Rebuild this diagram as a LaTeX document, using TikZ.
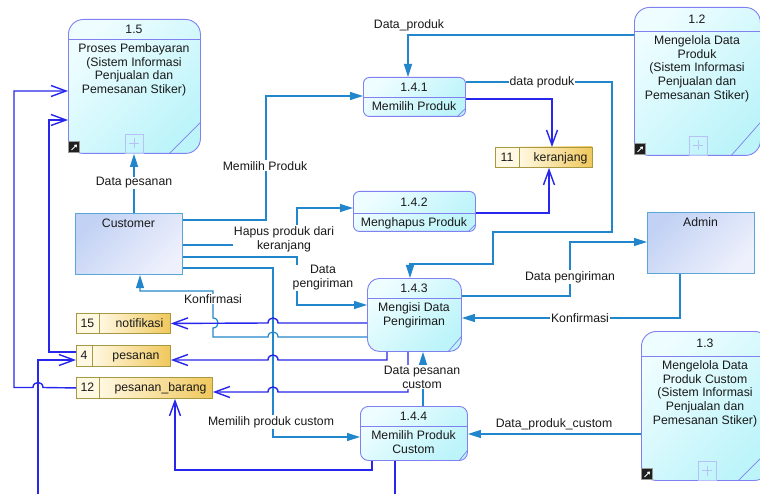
\documentclass[tikz,border=0pt]{standalone}
\usepackage{fontspec}
\setmainfont{Liberation Sans}
\usetikzlibrary{arrows.meta}

\definecolor{flowC}{RGB}{34,134,204}
\definecolor{flowB}{RGB}{38,38,236}
\definecolor{procB}{RGB}{128,128,240}
\definecolor{procT}{RGB}{238,253,255}
\definecolor{procS}{RGB}{188,244,250}
\definecolor{entB}{RGB}{90,166,214}
\definecolor{entT}{RGB}{194,210,244}
\definecolor{entS}{RGB}{238,240,252}
\definecolor{stB}{RGB}{168,152,64}
\definecolor{stL}{RGB}{255,248,226}
\definecolor{stR}{RGB}{240,200,92}
\definecolor{plusC}{RGB}{184,192,248}

\tikzset{
  txt/.style={font=\fontsize{12.3}{14}\selectfont, inner sep=0pt, align=center, text=black!90},
  elbl/.style={txt, fill=white, inner sep=1bp},
  proc/.style={draw=procB, line width=0.9bp, top color=procT, bottom color=procS,
    shading angle=45, inner sep=0pt, anchor=north west},
  procline/.style={draw=procB, line width=0.7bp},
  entity/.style={draw=entB, line width=1.1bp, top color=entT, bottom color=entS,
    shading angle=45, inner sep=0pt, anchor=north west},
  flowc/.style={draw=flowC, line width=1.2bp, -{Triangle[length=13bp,width=8bp]}},
  flowb/.style={draw=flowB, line width=1.4bp, -{Straight Barb[length=15bp,width=11bp]}},
  flowbplain/.style={draw=flowB, line width=1.4bp},
}

% process: name, x, y, width, height, corner radius, header height, number, text
\newcommand\procbox[9]{%
  \node[proc, rounded corners=#6bp, minimum width=#4bp, minimum height=#5bp] (#1) at (#2,#3) {};
  \draw[procline] (#2,#3+#7) -- (#2+#4,#3+#7);
  \node[txt] (#1-no) at (#2+#4/2,#3+#7/2) {#8};
  \node[txt, anchor=north] (#1-tx) at (#2+#4/2,#3+#7+4) {#9};
}
% data store: name, x, y, width, height, divider offset, number, label
\newcommand\storebox[8]{%
  \node[draw=stB, line width=0.9bp, fill=stL, inner sep=0pt, anchor=north west,
        minimum width=#4bp, minimum height=#5bp] (#1) at (#2,#3) {};
  \shade[left color=stL, right color=stR] (#2+#6,#3) rectangle (#2+#4,#3+#5);
  \draw[stB, line width=0.9bp] (#2,#3) rectangle (#2+#4,#3+#5) (#2+#6,#3) -- (#2+#6,#3+#5);
  \node[txt, anchor=base] (#1-no) at (#2+#6/2,#3+#5/2+4.3) {#7};
  \node[txt, anchor=base] (#1-tx) at (#2+#6/2+#4/2+5,#3+#5/2+4.3) {#8};
}
% shortcut marker in the lower left corner of a process
\newcommand\shortcutmark[2]{%
  \fill[black!88] (#1,#2) rectangle ++(11,11);
  \draw[white, line width=1bp, -{Triangle[length=2.5bp,width=3.5bp]}] (#1+3,#2+8.5) -- (#1+8.5,#2+3);
  \draw[black!40, line width=0.4bp] (#1,#2) rectangle ++(11,11);
}
% expand box at the bottom centre of a process
\newcommand\expandmark[2]{%
  \draw[plusC, line width=0.8bp] (#1-9,#2) rectangle (#1+9,#2-19);
  \draw[plusC, line width=0.6bp] (#1-5,#2-9.5) -- (#1+5,#2-9.5) (#1,#2-14.5) -- (#1,#2-4.5);
}

\begin{document}
\begin{tikzpicture}[x=1bp,y=-1bp]
\fill[white] (0,0) rectangle (760,494);
\clip (0,0) rectangle (760,494);

% ---------- processes ----------
\procbox{p15}{68}{19}{132}{134}{15}{20}{1.5}{Proses Pembayaran\\(Sistem Informasi\\Penjualan dan\\Pemesanan Stiker)}
\procbox{p12}{634}{7}{126}{148}{15}{24}{1.2}{Mengelola Data\\Produk\\(Sistem Informasi\\Penjualan dan\\Pemesanan Stiker)}
\procbox{p13}{641}{331}{128}{149}{15}{25}{1.3}{Mengelola Data\\Produk Custom\\(Sistem Informasi\\Penjualan dan\\Pemesanan Stiker)}
\procbox{p141}{363}{77}{102}{39}{6}{20}{1.4.1}{Memilih Produk}
\procbox{p142}{353}{191}{122}{40}{6}{22}{1.4.2}{Menghapus Produk}
\procbox{p143}{367}{278}{94}{73}{12}{20}{1.4.3}{Mengisi Data\\Pengiriman}
\procbox{p144}{360}{406}{107}{54}{8}{20}{1.4.4}{Memilih Produk\\Custom}

% corner strokes
\draw[procline] ([xshift=-32bp]p15.south east) -- ([yshift=32bp]p15.south east);
\draw[procline] ([xshift=-30bp]p12.south east) -- ([yshift=34bp]p12.south east);
\draw[procline] ([xshift=-32bp]p13.south east) -- ([yshift=32bp]p13.south east);
\draw[procline] ([xshift=-9bp]p141.south east) -- ([yshift=9bp]p141.south east);
\draw[procline] ([xshift=-8bp]p142.south east) -- ([yshift=8bp]p142.south east);
\draw[procline] ([xshift=-14bp]p143.south east) -- ([yshift=16bp]p143.south east);
\draw[procline] ([xshift=-9bp]p144.south east) -- ([yshift=11bp]p144.south east);

\shortcutmark{68.5}{141.5}
\shortcutmark{634.5}{143.5}
\shortcutmark{641.5}{468.5}
\expandmark{134}{153}
\expandmark{698}{155}
\expandmark{707}{480}

% ---------- external entities ----------
\node[entity, minimum width=107bp, minimum height=61bp] (cust) at (75,213) {};
\node[txt] (cust-tx) at (128.5,223) {Customer};
\node[entity, minimum width=107bp, minimum height=61bp] (admin) at (647,212) {};
\node[txt] (admin-tx) at (700.5,222) {Admin};

% ---------- data stores ----------
\storebox{s11}{495}{147}{97}{20}{24}{11}{keranjang}
\storebox{s15}{76}{313}{94}{20}{23}{15}{notifikasi}
\storebox{s4}{76}{345}{94}{21}{16}{4}{pesanan}
\storebox{s12}{76}{377}{136}{21}{23}{12}{pesanan\_barang}

% ---------- flows ----------
\draw[flowc] (p12.west |- 0,35) -| (p141.north -| 408,0);
\draw[flowc] (p141.east |- 0,82) -- (612,82) -- (612,232) -- (493,232) -- (493,264) -| (p143.north -| 410,0);
\draw[flowb] (p141.east |- 0,99) -| (s11.north -| 552,0);
\draw[flowb] (p142.east |- 0,213) -| (s11.south -| 549,0);

\draw[flowc] (cust.east |- 0,220) -- (266,220) |- (p141.west |- 0,96);
\draw[flowc] (cust.east |- 0,245) -- (297,245) |- (p142.west |- 0,208);
\draw[flowc] (cust.east |- 0,257) -- (297,257) |- (p143.west |- 0,305);
\draw[flowc] (cust.east |- 0,268) -- (273,268) |- (p144.west |- 0,437);
\draw[flowc] (cust.north -| 134,0) -- (p15.south -| 134,0);

\draw[flowc] (p143.west |- 0,337) -- (278,337) .. controls (278,330.3) and (268,330.3) .. (268,337)
  -- (213,337) -- (213,328) .. controls (219.7,328) and (219.7,318) .. (213,318)
  -- (213,291) -- (140,291) -- (cust.south -| 140,0);
\draw[flowb] (p143.west |- 0,323) -- (278,323) .. controls (278,316.3) and (268,316.3) .. (268,323) -- (s15.east);
\draw[flowb] (p143.south -| 387,0) -- (387,360) -- (278,360) .. controls (278,353.3) and (268,353.3) .. (268,360) -- (s4.east |- 0,360);
\draw[flowb] (p143.south -| 408,0) -- (408,392) -- (278,392) .. controls (278,385.3) and (268,385.3) .. (268,392) -- (s12.east |- 0,392);

\draw[flowc] (p144.north -| 423,0) -- (p143.south -| 423,0);
\draw[flowc] (p13.west |- 0,434) -- (p144.east |- 0,434);
\draw[flowc] (p143.east |- 0,296) -- (570,296) |- (admin.west |- 0,242);
\draw[flowc] (admin.south -| 680,0) |- (p143.east |- 0,318);

\draw[flowb] (p144.south -| 372,0) -- (372,470) -| (s12.south -| 175,0);
\coordinate (outb) at (395,494);
\draw[flowbplain] (p144.south -| 395,0) -- (outb);

\draw[flowb] (s12.west) -- (43,387.5) .. controls (43,380.8) and (33,380.8) .. (33,387.5)
  -- (14,387.5) -- (14,91) -- (p15.west |- 0,91);
\draw[flowb] (s4.west |- 0,352) -- (49,352) -- (49,120) -- (p15.west |- 0,120);
\coordinate (inl) at (38,494);
\draw[flowb] (inl) |- (s4.west |- 0,360);

% ---------- flow labels ----------
\node[txt] (l1) at (409,25) {Data\_produk};
\node[elbl] (l2) at (542,82) {data produk};
\node[elbl] (l3) at (265,166) {Memilih Produk};
\node[elbl] (l4) at (284,239) {Hapus produk dari\\keranjang};
\node[elbl] (l5) at (323,278) {Data\\pengiriman};
\node[elbl] (l6) at (213,299) {Konfirmasi};
\node[elbl] (l7) at (134,183) {Data pesanan};
\node[elbl] (l8) at (271,422) {Memilih produk custom};
\node[elbl] (l9) at (422,377) {Data pesanan\\custom};
\node[txt] (l10) at (554,424) {Data\_produk\_custom};
\node[elbl] (l11) at (570,277) {Data pengiriman};
\node[elbl] (l12) at (580,318) {Konfirmasi};
\end{tikzpicture}
\end{document}
